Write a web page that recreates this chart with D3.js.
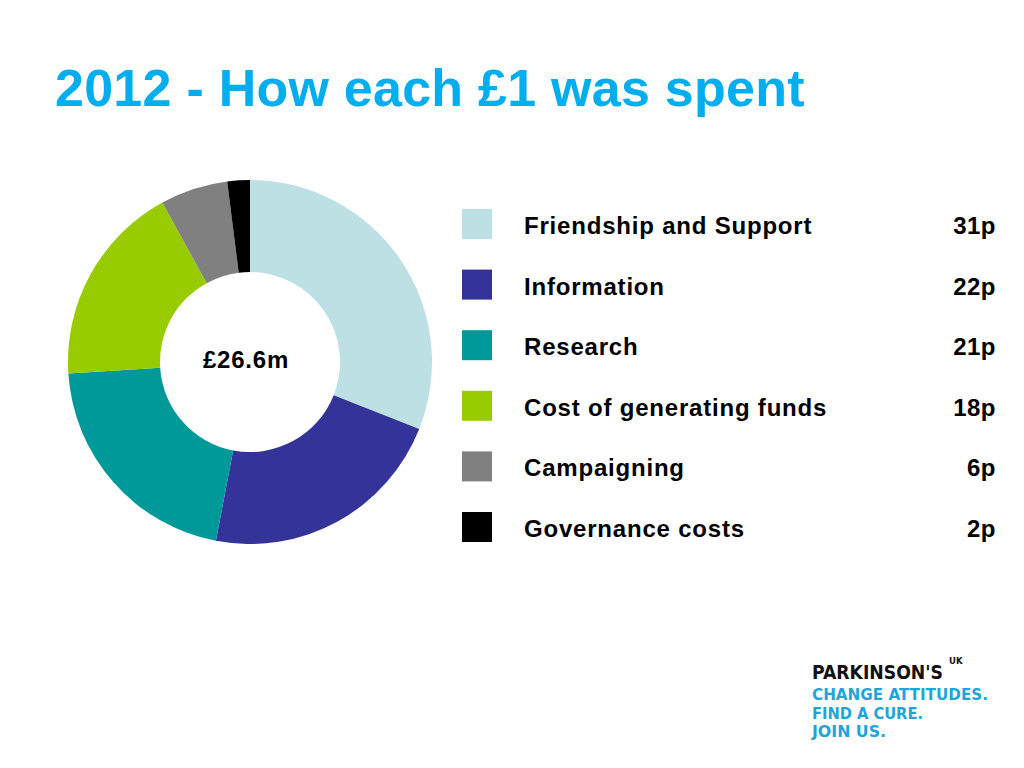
<!DOCTYPE html>
<html><head><meta charset="utf-8">
<script src="https://cdn.jsdelivr.net/npm/d3@7"></script>
<style>body{margin:0;background:#fff;}svg{display:block;}</style>
</head><body>
<script>
const categories = ["Friendship and Support","Information","Research","Cost of generating funds","Campaigning","Governance costs"];
const values = [31,22,21,18,6,2];
const valueLabels = ["31p","22p","21p","18p","6p","2p"];
const colors = ["#BCE0E3","#333399","#009999","#99CC00","#808080","#000000"];
const title = "2012 - How each £1 was spent";
const centerLabel = "£26.6m";
const logoLines = ["CHANGE ATTITUDES.","FIND A CURE.","JOIN US."];

const svg = d3.select("body").append("svg").attr("width",1024).attr("height",768);
const font = "'Liberation Sans', Arial, sans-serif";

svg.append("text").attr("x",55).attr("y",106).text(title)
  .attr("font-family",font).attr("font-weight","bold").attr("font-size",52).attr("letter-spacing",0.25).attr("fill","#00AEEF");

const pie = d3.pie().sort(null).value(d=>d);
const arc = d3.arc().innerRadius(90).outerRadius(182);
const g = svg.append("g").attr("transform","translate(250,362)");
g.selectAll("path").data(pie(values)).join("path").attr("d",arc).attr("fill",(d,i)=>colors[i]);
g.append("text").attr("x",-4).attr("y",6).attr("text-anchor","middle").text(centerLabel)
  .attr("font-family",font).attr("font-weight","bold").attr("font-size",24).attr("letter-spacing",0.8).attr("fill","#000");

const y = d3.scalePoint().domain(categories).range([224,527]);
const leg = svg.append("g");
const rows = leg.selectAll("g").data(categories).join("g").attr("transform",d=>`translate(0,${y(d)})`);
rows.append("rect").attr("x",462).attr("y",-15).attr("width",30).attr("height",30).attr("fill",(d,i)=>colors[i]);
rows.append("text").attr("x",524).attr("y",10).text(d=>d)
  .attr("font-family",font).attr("font-weight","bold").attr("font-size",24).attr("letter-spacing",0.8).attr("fill","#000");
rows.append("text").attr("x",996).attr("y",10).attr("text-anchor","end").text((d,i)=>valueLabels[i])
  .attr("font-family",font).attr("font-weight","bold").attr("font-size",24).attr("letter-spacing",0.5).attr("fill","#000");

const logo = svg.append("g").attr("transform","translate(812,0)");
const lf = "'DejaVu Sans Condensed', 'Liberation Sans Narrow', sans-serif";
logo.append("text").attr("x",0).attr("y",679).attr("font-family",lf).attr("font-weight","bold").attr("font-size",19).attr("fill","#111")
  .attr("textLength",131).attr("lengthAdjust","spacingAndGlyphs").text("PARKINSON'S");
logo.append("text").attr("x",137).attr("y",664).attr("font-family",lf).attr("font-weight","bold").attr("font-size",9.5).attr("fill","#111").text("UK");
const lw = [176,111,74];
logo.selectAll("text.l").data(logoLines).join("text").attr("class","l")
  .attr("x",0).attr("y",(d,i)=>700+i*18.5).attr("font-family",lf).attr("font-weight","bold").attr("font-size",16)
  .attr("fill","#1EA5DC").attr("textLength",(d,i)=>lw[i]).attr("lengthAdjust","spacingAndGlyphs").text(d=>d);
</script>
</body></html>
